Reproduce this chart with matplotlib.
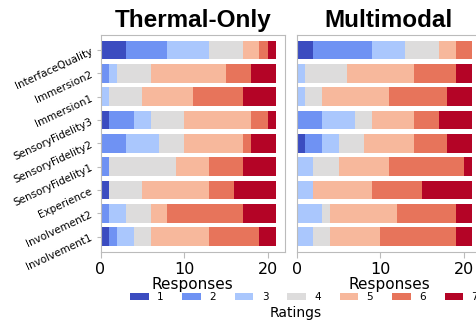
import matplotlib
matplotlib.use("Agg")
import matplotlib.pyplot as plt
import numpy as np

categories = ["Involvement1", "Involvement2", "Experience", "SensoryFidelity1",
              "SensoryFidelity2", "SensoryFidelity3", "Immersion1", "Immersion2",
              "InterfaceQuality"]
ratings = ["1", "2", "3", "4", "5", "6", "7"]

# counts per rating (1..7) for each category, bottom to top
thermal_only = [
    [1, 1, 2, 2, 7, 6, 2],   # Involvement1
    [0, 1, 2, 3, 2, 9, 4],   # Involvement2
    [1, 0, 0, 4, 8, 3, 5],   # Experience
    [0, 1, 0, 8, 4, 4, 4],   # SensoryFidelity1
    [0, 3, 4, 3, 7, 1, 3],   # SensoryFidelity2
    [1, 3, 2, 4, 8, 2, 1],   # SensoryFidelity3
    [0, 0, 1, 4, 6, 6, 4],   # Immersion1
    [0, 1, 1, 4, 9, 3, 3],   # Immersion2
    [3, 5, 5, 4, 2, 1, 1],   # InterfaceQuality
]
multimodal = [
    [0, 0, 2, 2, 6, 9, 2],   # Involvement1
    [0, 0, 3, 1, 8, 7, 2],   # Involvement2
    [0, 0, 2, 0, 7, 6, 6],   # Experience
    [0, 0, 2, 3, 6, 9, 1],   # SensoryFidelity1
    [1, 2, 2, 3, 6, 4, 3],   # SensoryFidelity2
    [0, 3, 4, 2, 5, 3, 4],   # SensoryFidelity3
    [0, 0, 1, 2, 8, 7, 3],   # Immersion1
    [0, 0, 1, 5, 8, 5, 2],   # Immersion2
    [2, 7, 4, 4, 2, 2, 0],   # InterfaceQuality
]
panel_titles = ["Thermal-Only", "Multimodal"]

colors = plt.cm.coolwarm(np.linspace(0, 1, len(ratings)))

fig = plt.figure(figsize=(4.76, 3.2), dpi=100)
W, H = 476, 320
def ax_rect(x0, x1, ytop, ybot):
    return [x0 / W, (H - ybot) / H, (x1 - x0) / W, (ybot - ytop) / H]

ax1 = fig.add_axes(ax_rect(100.5, 285, 35, 251.7))
ax2 = fig.add_axes(ax_rect(296.7, 481.2, 35, 251.7), sharey=ax1)

y = np.arange(len(categories))
handles = []
for ax, data, title in zip([ax1, ax2], [thermal_only, multimodal], panel_titles):
    arr = np.array(data, dtype=float)
    left = np.zeros(len(categories))
    for j, r in enumerate(ratings):
        b = ax.barh(y, arr[:, j], left=left, height=0.8, color=colors[j],
                    linewidth=0, label=r)
        left += arr[:, j]
        if ax is ax1:
            handles.append(b)
    ax.set_ylim(-0.65, 8.65)
    ax.set_xlim(0, 22.05)
    ax.set_xticks([0, 10, 20])
    ax.tick_params(axis="x", labelsize=11.5, color="#bbbbbb", length=4)
    ax.set_xlabel("Responses", fontsize=11, labelpad=0)
    ax.set_title(title, fontsize=17.5, fontweight="bold", family=["Liberation Sans", "DejaVu Sans"], pad=6)
    for s in ax.spines.values():
        s.set_color("#bbbbbb")

ax1.set_yticks(y)
ax1.set_yticklabels(categories, rotation=25, ha="right", rotation_mode="anchor", fontsize=7.5)
ax1.tick_params(axis="y", color="#bbbbbb", length=3)
ax2.tick_params(axis="y", left=False, labelleft=False)

fig.legend(handles, ratings, loc="center", bbox_to_anchor=(304 / W, (H - 297) / H),
           ncol=7, frameon=False, fontsize=7.5, handlelength=1.8, handleheight=0.6,
           columnspacing=1.8, handletextpad=0.8)
fig.text(296 / W, (H - 313) / H, "Ratings", ha="center", va="center", fontsize=10)

fig.savefig("out.png", dpi=100)
